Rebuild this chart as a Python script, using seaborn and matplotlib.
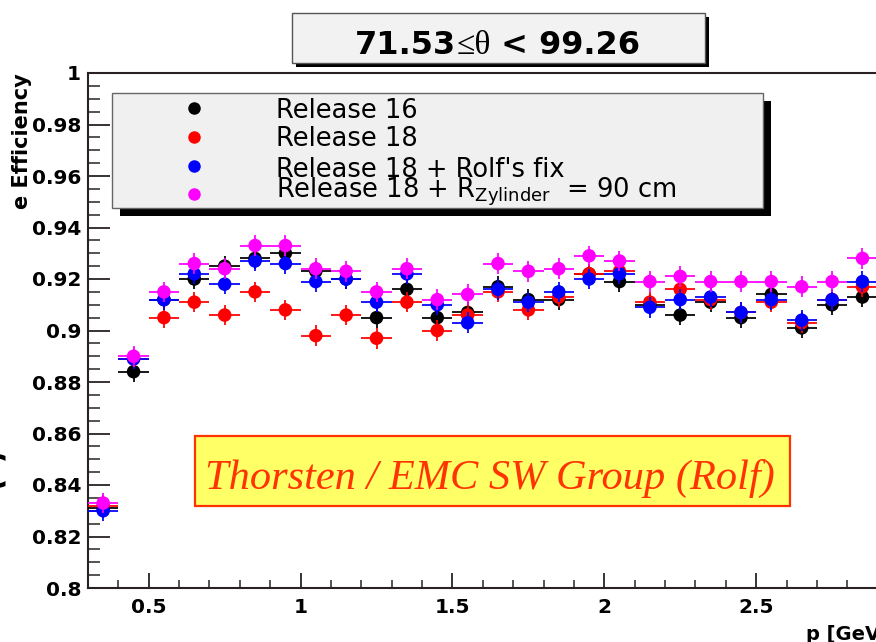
import numpy as np
import pandas as pd
import matplotlib
matplotlib.use("Agg")
import matplotlib.pyplot as plt
import seaborn as sns
from matplotlib.patches import Rectangle

# ---------------- data ----------------
p_bins = [0.35, 0.45, 0.55, 0.65, 0.75, 0.85, 0.95, 1.05, 1.15, 1.25,
          1.35, 1.45, 1.55, 1.65, 1.75, 1.85, 1.95, 2.05, 2.15, 2.25,
          2.35, 2.45, 2.55, 2.65, 2.75, 2.85]
rel16 = [0.831, 0.884, 0.912, 0.920, 0.925, 0.928, 0.930, 0.923, 0.920, 0.905,
         0.916, 0.905, 0.907, 0.917, 0.912, 0.912, 0.922, 0.919, 0.910, 0.906,
         0.911, 0.905, 0.914, 0.901, 0.910, 0.913]
rel18 = [0.832, 0.889, 0.905, 0.911, 0.906, 0.915, 0.908, 0.898, 0.906, 0.897,
         0.911, 0.900, 0.906, 0.915, 0.908, 0.913, 0.922, 0.923, 0.911, 0.916,
         0.912, 0.907, 0.911, 0.903, 0.912, 0.917]
rel18_fix = [0.830, 0.889, 0.912, 0.922, 0.918, 0.927, 0.926, 0.919, 0.920, 0.911,
             0.922, 0.910, 0.903, 0.916, 0.911, 0.915, 0.920, 0.922, 0.909, 0.912,
             0.913, 0.907, 0.912, 0.904, 0.912, 0.919]
rel18_r90 = [0.833, 0.890, 0.915, 0.926, 0.924, 0.933, 0.933, 0.924, 0.923, 0.915,
             0.924, 0.912, 0.914, 0.926, 0.923, 0.924, 0.929, 0.927, 0.919, 0.921,
             0.919, 0.919, 0.919, 0.917, 0.919, 0.928]
series_names = ["Release 16", "Release 18", "Release 18 + Rolf's fix",
                "Release 18 + R$_{\\mathrm{Zylinder}}$  = 90 cm"]
series_colors = ["#000000", "#ff0000", "#0000ff", "#ff00ff"]
series_values = [rel16, rel18, rel18_fix, rel18_r90]
x_half_width = 0.05
y_err = 0.004
x_tick_vals = [0.5, 1.0, 1.5, 2.0, 2.5]
x_tick_labels = ["0.5", "1", "1.5", "2", "2.5"]
y_tick_vals = [0.8, 0.82, 0.84, 0.86, 0.88, 0.9, 0.92, 0.94, 0.96, 0.98, 1.0]
y_tick_labels = ["0.8", "0.82", "0.84", "0.86", "0.88", "0.9", "0.92",
                 "0.94", "0.96", "0.98", "1"]
title_parts = ["71.53", "\u2264\u03b8", " < 99.26"]
annotation = "Thorsten / EMC SW Group (Rolf)"
y_label = "e Efficiency"
x_label = "p [GeV/c]"

# ---------------- figure ----------------
sns.set_style("ticks")
plt.rcParams["font.family"] = ["DejaVu Sans"]
plt.rcParams["text.color"] = "black"
plt.rcParams["xtick.color"] = "black"
plt.rcParams["ytick.color"] = "black"
plt.rcParams["xtick.labelcolor"] = "black"
plt.rcParams["ytick.labelcolor"] = "black"

W, H = 876, 642
fig = plt.figure(figsize=(W / 100, H / 100), dpi=100)
fig.patch.set_facecolor("white")


def fx(x):
    return x / W


def fy(y):
    return 1 - y / H


ax = fig.add_axes([fx(88), fy(588), (908 - 88) / W, (588 - 73) / H])
ax.set_facecolor("white")

frames = []
for name, vals in zip(series_names, series_values):
    frames.append(pd.DataFrame({"p": p_bins, "eff": vals, "release": name}))
df = pd.concat(frames, ignore_index=True)

for i, (name, col) in enumerate(zip(series_names, series_colors)):
    sub = df[df["release"] == name]
    ax.errorbar(sub["p"], sub["eff"], xerr=x_half_width, yerr=y_err,
                fmt="none", ecolor=col, elinewidth=1.4, capsize=0,
                zorder=3 + 2 * i, alpha=0.9)
    sns.scatterplot(data=sub, x="p", y="eff", color=col, s=95,
                    edgecolor="none", linewidth=0, ax=ax, legend=False,
                    zorder=4 + 2 * i)

ax.set_xlim(0.3, 3.0)
ax.set_ylim(0.8, 1.0)
ax.set_xlabel("")
ax.set_ylabel("")
ax.set_xticks(x_tick_vals)
ax.set_xticklabels(x_tick_labels)
ax.set_xticks(np.arange(0.4, 3.0, 0.1), minor=True)
ax.set_yticks(y_tick_vals)
ax.set_yticklabels(y_tick_labels)
ax.set_yticks(np.arange(0.805, 1.0, 0.005), minor=True)
for s in ["left", "bottom", "top", "right"]:
    ax.spines[s].set_visible(True)
    ax.spines[s].set_color("#2a2222")
    ax.spines[s].set_linewidth(1.5)
ax.tick_params(axis="y", which="major", direction="in", length=16, width=1.3,
               color="#2a2222", labelsize=14.5, pad=5, right=False,
               labelcolor="black")
ax.tick_params(axis="y", which="minor", direction="in", length=8.5, width=1.1,
               color="#2a2222", right=False)
ax.tick_params(axis="x", which="major", direction="in", length=11, width=1.3,
               color="#2a2222", labelsize=14.5, pad=7, top=False,
               labelcolor="black")
ax.tick_params(axis="x", which="minor", direction="in", length=6, width=1.1,
               color="#2a2222", top=False)
for lab in ax.get_xticklabels() + ax.get_yticklabels():
    lab.set_fontweight("bold")

# axis labels (cropped like the reference)
fig.text(fx(32), fy(73), y_label, rotation=90, ha="right", va="top",
         fontsize=15, fontweight="bold", color="black")
fig.text(fx(806), fy(640), x_label, ha="left", va="baseline",
         fontsize=14, fontweight="bold", color="black")

# stray slide letter at left edge
fig.text(fx(9), fy(487), "c", ha="right", va="baseline", fontsize=42,
         color="black")

# ---------------- title box ----------------
fig.patches.append(Rectangle((fx(296), fy(67)), (705 - 292) / W, (63 - 13) / H,
                             transform=fig.transFigure, facecolor="black",
                             edgecolor="none", zorder=20))
fig.patches.append(Rectangle((fx(292), fy(63)), (705 - 292) / W, (63 - 13) / H,
                             transform=fig.transFigure, facecolor="#f2f2f2",
                             edgecolor="#555555", linewidth=1.0, zorder=21))
t1 = fig.text(fx(355), fy(54), title_parts[0], ha="left", va="baseline",
              fontsize=23, fontweight="bold", color="black", zorder=22)
fig.canvas.draw()
r = fig.canvas.get_renderer()
bb = t1.get_window_extent(r)
t2 = fig.text(bb.x1 / W, fy(54), title_parts[1], ha="left", va="baseline",
              fontsize=24, family=["Liberation Serif", "DejaVu Serif"],
              color="black", zorder=22)
bb2 = t2.get_window_extent(r)
fig.text(bb2.x1 / W, fy(54), title_parts[2], ha="left", va="baseline",
         fontsize=23, fontweight="bold", color="black", zorder=22)

# ---------------- legend box ----------------
fig.patches.append(Rectangle((fx(120), fy(216)), (763 - 112) / W, (208 - 93) / H,
                             transform=fig.transFigure, facecolor="black",
                             edgecolor="none", zorder=20))
fig.patches.append(Rectangle((fx(112), fy(208)), (763 - 112) / W, (208 - 93) / H,
                             transform=fig.transFigure, facecolor="#f0f0f0",
                             edgecolor="#666666", linewidth=1.0, zorder=21))
marker_y = [108, 137, 166, 194]
text_base = [118, 146, 177, 197]
for name, col, my, tb in zip(series_names, series_colors, marker_y, text_base):
    fig.add_artist(plt.Line2D([fx(194)], [fy(my)], marker="o", markersize=9,
                              color=col, markeredgewidth=0, linestyle="none",
                              transform=fig.transFigure, zorder=22))
    fig.text(fx(276), fy(tb), name, ha="left", va="baseline", fontsize=18.5,
             color="black", zorder=22)

# ---------------- annotation box ----------------
fig.patches.append(Rectangle((fx(195), fy(506)), (790 - 195) / W, (506 - 436) / H,
                             transform=fig.transFigure, facecolor="#ffff66",
                             edgecolor="#ff3300", linewidth=1.6, zorder=20))
fig.text(fx(205), fy(489), annotation, ha="left", va="baseline",
         fontsize=30.5, style="italic", color="#ff3300",
         family=["Liberation Serif", "DejaVu Serif"], zorder=21)

fig.savefig("out.png", dpi=100, facecolor="white")
